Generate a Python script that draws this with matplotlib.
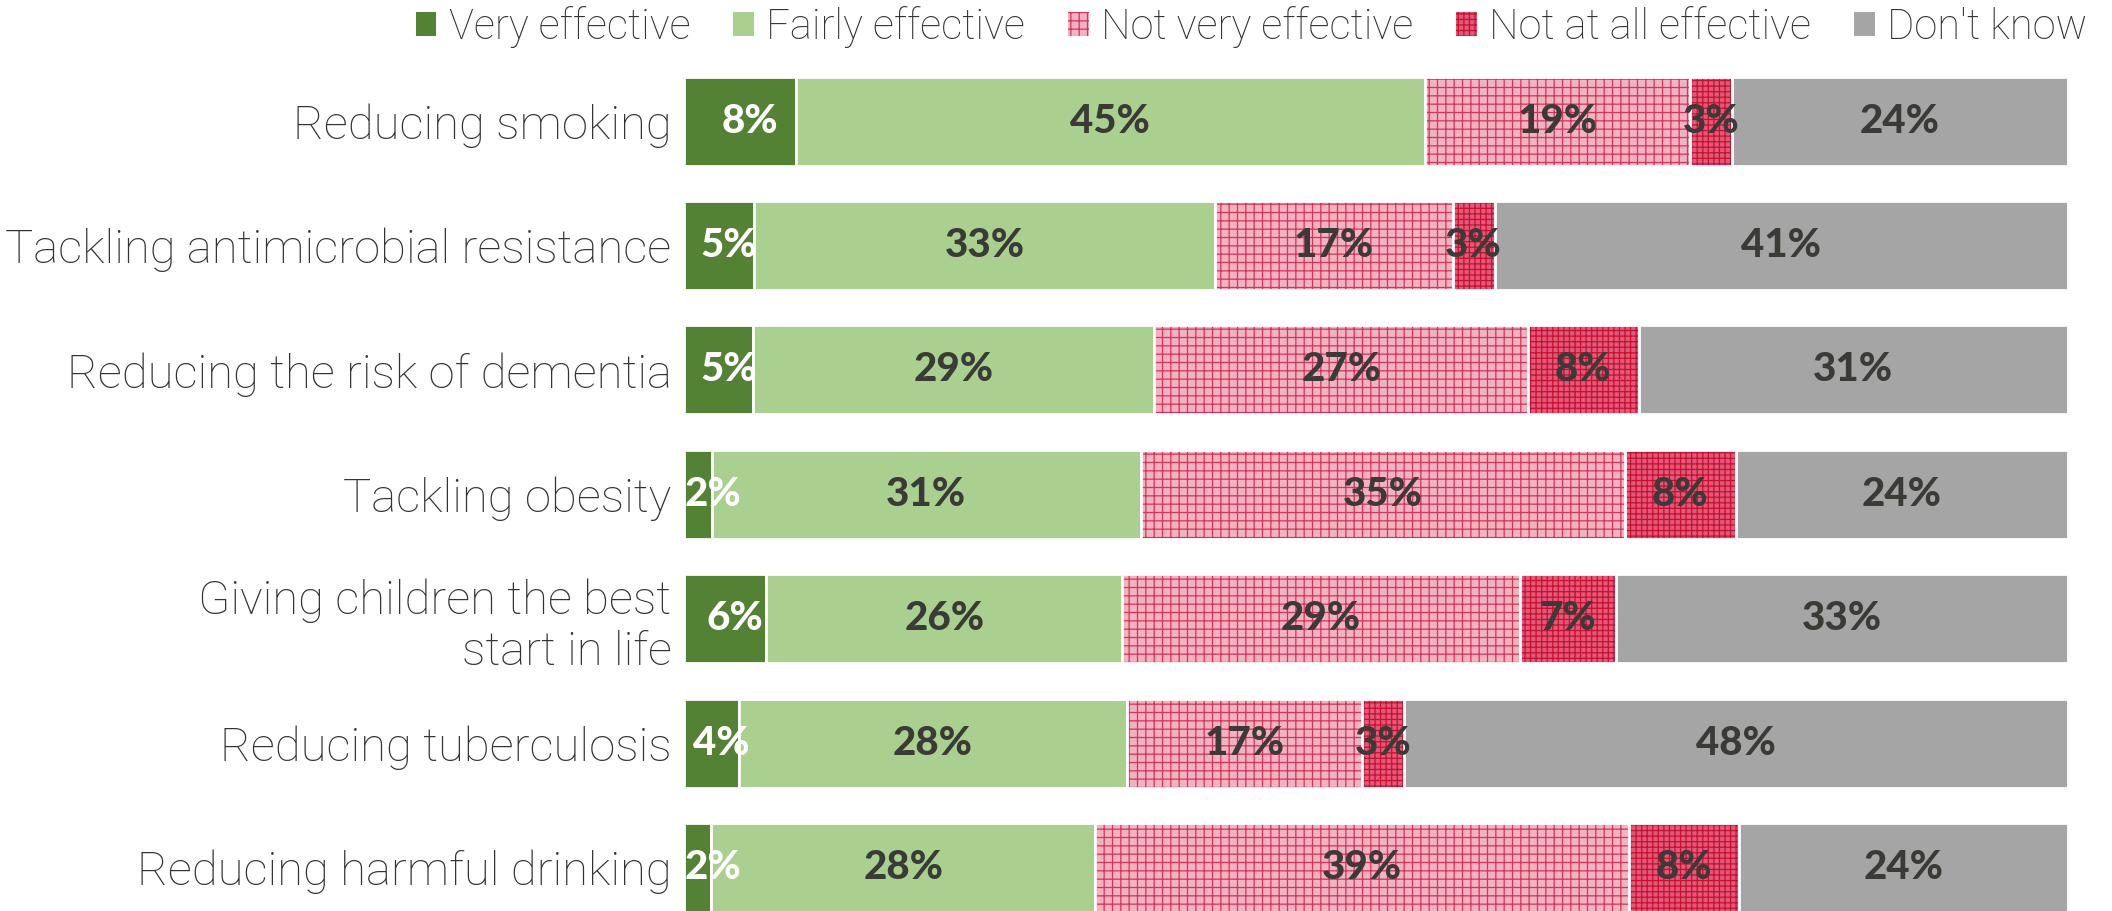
import matplotlib
matplotlib.use('Agg')
import matplotlib.pyplot as plt
from matplotlib.patches import Patch
import numpy as np

# Survey answers, percent of respondents
categories = ['Reducing smoking', 'Tackling antimicrobial resistance', 'Reducing the risk of dementia',
              'Tackling obesity', 'Giving children the best\nstart in life', 'Reducing tuberculosis',
              'Reducing harmful drinking']
series = ['Very effective', 'Fairly effective', 'Not very effective', 'Not at all effective', "Don't know"]
very = [8, 5, 5, 2, 6, 4, 2]
fairly = [45, 33, 29, 31, 26, 28, 28]
not_very = [19, 17, 27, 35, 29, 17, 39]
not_at_all = [3, 3, 8, 8, 7, 3, 8]
dont_know = [24, 41, 31, 24, 33, 48, 24]

colors = ['#548235', '#A9D08E', '#F2B3C1', '#E0597A', '#A5A5A5']
hatches = [None, None, '++', '+++', None]
hatch_cols = [None, None, '#D8325A', '#C8102E', None]
text_cols = ['white', '#3A3A36', '#3A3A36', '#3A3A36', '#3A3A36']

plt.rcParams['hatch.linewidth'] = 0.9

data = np.array([very, fairly, not_very, not_at_all, dont_know], dtype=float)
data = data / data.sum(axis=0) * 100  # bars always fill the full width
raw = [very, fairly, not_very, not_at_all, dont_know]

fig = plt.figure(figsize=(21.12, 9.11), dpi=100)
ax = fig.add_axes([0.3239, 0.0, 0.979 - 0.3239, 1.0])

y = np.arange(len(categories))
left = np.zeros(len(categories))
for i in range(5):
    if hatches[i]:
        ax.barh(y, data[i], left=left, height=0.715, color=colors[i], hatch=hatches[i],
                edgecolor=hatch_cols[i], linewidth=0)
    else:
        ax.barh(y, data[i], left=left, height=0.715, color=colors[i], linewidth=0)
    # white gaps between segments
    ax.barh(y, data[i], left=left, height=0.715, fill=False, edgecolor='white', linewidth=2)
    for j in range(len(categories)):
        cx = left[j] + data[i][j] / 2
        if i == 0:
            cx = max(cx + 0.7, 2.1)
        ax.text(cx, y[j], '{}%'.format(raw[i][j]), ha='center', va='center',
                fontsize=29, fontweight='black', family='Lato', color=text_cols[i])
    left += data[i]

ax.set_xlim(0, 100)
ax.set_ylim(6.35, -0.973)
ax.set_yticks(y)
ax.set_yticklabels(categories, fontsize=34, family='Roboto', fontweight='light', color='#333333',
                   linespacing=1.2)
ax.tick_params(axis='y', length=0, pad=9)
ax.set_xticks([])
for s in ax.spines.values():
    s.set_visible(False)

handles = []
for i in range(5):
    if hatches[i]:
        handles.append(Patch(facecolor=colors[i], hatch=hatches[i], edgecolor=hatch_cols[i], linewidth=0))
    else:
        handles.append(Patch(facecolor=colors[i], linewidth=0))
fig.legend(handles, series, loc='upper right', bbox_to_anchor=(1.006, 1.035), ncol=5, frameon=False,
           handlelength=0.5, handleheight=0.5, handletextpad=0.3, columnspacing=1.02,
           prop={'family': 'Roboto', 'weight': 'light', 'size': 30}, labelcolor='#333333')

fig.savefig('out.png', dpi=100)
